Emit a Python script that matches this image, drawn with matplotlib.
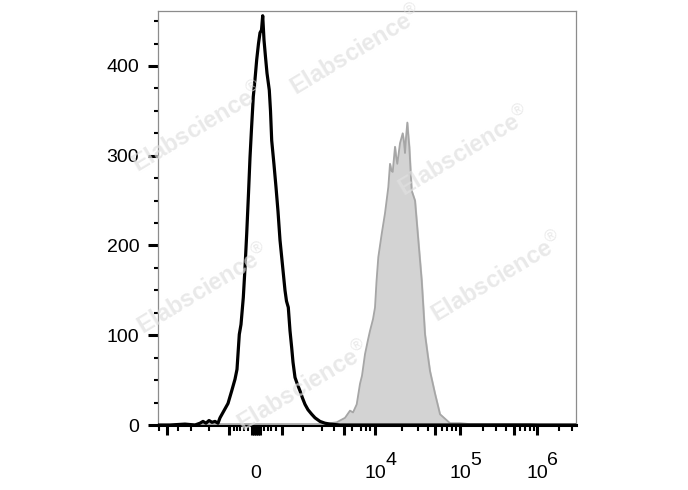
import matplotlib.pyplot as plt
import matplotlib.transforms as mtransforms

plt.rcParams['font.family'] = ['Liberation Sans', 'DejaVu Sans']
plt.rcParams['mathtext.fontset'] = 'custom'
plt.rcParams['mathtext.rm'] = 'Liberation Sans'

# display channel (0 .. 417.5 across the axis) and event counts
unstained_ch = [0, 12, 27, 37, 42, 45, 48, 51, 54, 57, 60, 62, 64, 67, 70, 73.7,
                77, 79, 81.3, 83, 85.3, 87, 88.7, 90.5, 92, 93.5, 95.3, 97, 98.7,
                100.5, 102, 103.5, 104.7, 106, 107.5, 109, 111.3, 112.5, 113.7,
                116, 118, 120, 122, 124.5, 127, 128.5, 130.3, 132, 133.7, 135,
                137, 139.5, 142, 144.5, 147, 150, 153.7, 157, 162, 167, 172, 182,
                202, 242, 282, 322, 362, 417.5]
unstained_n = [0, 0, 1, 0, 2, 4, 2, 5, 3, 4, 2, 8, 12, 18, 24, 38,
               51, 62, 101, 112, 142, 175, 213, 258, 298, 330, 366, 385, 407,
               425, 437, 440, 456, 429, 410, 392, 373, 350, 317,
               290, 265, 238, 206, 178, 150, 138, 131, 105, 86, 70,
               53, 45, 38, 30, 23, 17, 12, 8, 4, 2, 1, 0,
               0, 0, 0, 0, 0, 0]

stained_ch = [0, 62, 102, 142, 167, 172, 178.7, 182, 187, 192, 195, 198.7, 202,
              204, 207, 210, 212, 215, 217, 218.5, 220.3, 222, 223.7, 227, 230.3,
              232, 233.5, 234.7, 237, 238, 239.3, 242, 244.7, 246, 247, 248,
              249.3, 250.5, 251.3, 252.5, 253.7, 257, 260.3, 263.7, 267, 269.5,
              272, 277, 282, 287, 292, 302, 312, 332, 352, 372, 382, 417.5]
stained_n = [0, 1, 1, 1, 1, 2, 3, 5, 8, 16, 14, 23, 46,
             55, 79, 95, 105, 118, 131, 160, 187, 200, 213, 236, 265,
             291, 283, 282, 310, 300, 291, 314, 325, 315, 303, 320,
             337, 320, 310, 285, 261, 250, 206, 161, 101, 80,
             60, 35, 12, 7, 2, 2, 1, 1, 1, 1, 0, 0]

y_major = [0, 100, 200, 300, 400]
x_long = [9, 71, 94, 96, 98, 100, 102, 124, 186, 217, 277, 302, 356, 379]
x_short = [1, 20, 33, 51, 76, 79, 82, 86, 90, 106, 110, 113, 118, 145, 164,
           176, 194, 203, 208, 212, 244, 260, 270, 284, 289, 294, 298, 325,
           338, 348, 362, 367, 372, 376, 401, 414]
x_labels = [(98, '0', None), (217, '10', '4'), (302, '10', '5'), (379, '10', '6')]

fig = plt.figure(figsize=(6.88, 4.90), dpi=100)
ax = fig.add_axes([158 / 688, 1 - 425 / 490, 417.5 / 688, 414.3 / 490])

ax.fill_between(stained_ch, stained_n, 0, color='#d3d3d3', zorder=2)
ax.plot(stained_ch, stained_n, color='#a6a6a6', lw=1.3, zorder=3)
ax.plot(unstained_ch, unstained_n, color='black', lw=2.3, zorder=4)

ax.set_xlim(0, 417.5)
ax.set_ylim(0, 461.6)

ax.set_yticks(y_major)
ax.set_yticks(range(0, 461, 25), minor=True)
ax.tick_params(axis='y', which='major', direction='out', length=7.5, width=2.2,
               labelsize=14, pad=6)
ax.tick_params(axis='y', which='minor', direction='out', length=3, width=1.5)

ax.set_xticks(x_long)
ax.set_xticks(x_short, minor=True)
ax.set_xticklabels([])
ax.tick_params(axis='x', which='major', direction='out', length=7.5, width=2.2)
ax.tick_params(axis='x', which='minor', direction='out', length=4, width=1.5)

for side in ['left', 'top', 'right']:
    ax.spines[side].set_color('#8c8c8c')
    ax.spines[side].set_linewidth(0.9)
ax.spines['bottom'].set_color('black')
ax.spines['bottom'].set_linewidth(2.2)

trans = ax.get_xaxis_transform()
for pos, base, exp in x_labels:
    ax.text(pos, -0.128, base, transform=trans, ha='center', va='baseline',
            fontsize=14)
    if exp:
        ax.text(pos + 10, -0.097, exp, transform=trans, ha='left',
                va='baseline', fontsize=14)

# watermark
marks = [(356, 51), (198, 128), (464, 152), (497, 278), (203, 290), (303, 387)]
for mx, my in marks:
    fig.text(mx / 688, 1 - my / 490, r'Elabscience$^{\circledR}$', rotation=31,
             ha='center', va='center', fontsize=17, fontweight='bold',
             color='#e0e0e0', alpha=0.7, zorder=10)

plt.savefig('out.png', dpi=100)
